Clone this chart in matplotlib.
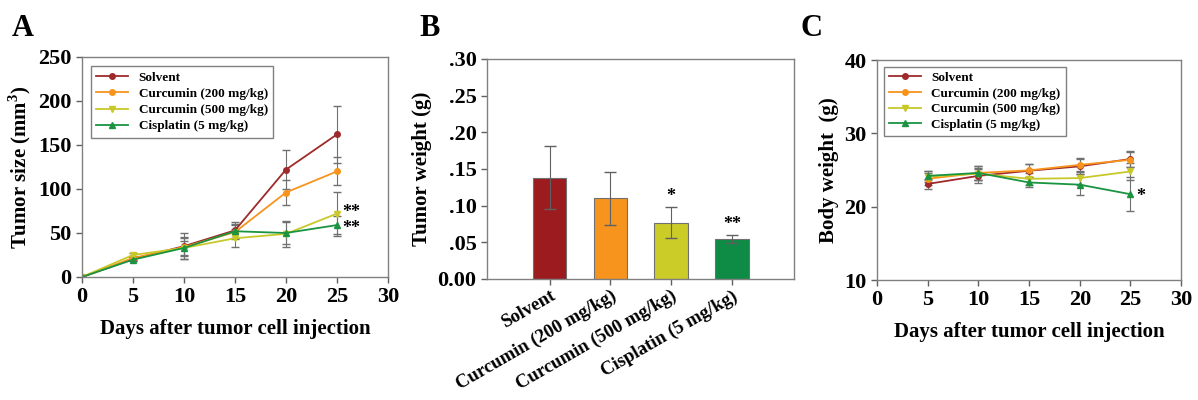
import numpy as np
import matplotlib.pyplot as plt
from matplotlib.lines import Line2D

plt.rcParams['font.family'] = ['Liberation Serif', 'DejaVu Serif']
plt.rcParams['font.weight'] = 'bold'
plt.rcParams['axes.labelweight'] = 'bold'
plt.rcParams['mathtext.fontset'] = 'custom'
plt.rcParams['mathtext.rm'] = 'Liberation Serif:bold'

groups = ['Solvent', 'Curcumin (200 mg/kg)', 'Curcumin (500 mg/kg)', 'Cisplatin (5 mg/kg)']
line_colors = ['#9e2a2b', '#f7941d', '#c8c82a', '#1a9440']
bar_colors = ['#9b1b1e', '#f7941d', '#cccc29', '#0e8c45']
markers = ['o', 'o', 'v', '^']

# A: tumor size
days_a = [0, 5, 10, 15, 20, 25]
size_solvent = [0, 20.5, 35, 53, 122, 162]
size_cur200 = [0, 21.6, 34, 51, 96, 120]
size_cur500 = [0, 25, 33, 44, 49, 72]
size_cis = [0, 19.7, 33, 52, 50, 59]
size_err_solvent = [0, 2, 15, 9, 22, 32]
size_err_cur200 = [0, 2, 10, 8, 14, 16]
size_err_cur500 = [0, 2, 12, 10, 15, 25]
size_err_cis = [0, 2, 8, 8, 13, 10]

# B: tumor weight
weights = [0.138, 0.110, 0.077, 0.054]
weight_err = [0.043, 0.036, 0.021, 0.0055]
weight_stars = ['', '', '*', '**']

# C: body weight
days_c = [5, 10, 15, 20, 25]
body_solvent = [23.1, 24.2, 24.9, 25.5, 26.5]
body_cur200 = [23.8, 24.6, 24.95, 25.7, 26.4]
body_cur500 = [24.1, 24.5, 23.8, 23.9, 24.8]
body_cis = [24.2, 24.6, 23.3, 23.0, 21.7]
body_err_solvent = [0.7, 1.0, 0.9, 1.0, 1.1]
body_err_cur200 = [0.8, 0.9, 0.9, 1.0, 1.0]
body_err_cur500 = [0.7, 0.8, 0.8, 1.0, 1.2]
body_err_cis = [0.6, 0.9, 0.6, 1.4, 2.3]

fig = plt.figure(figsize=(11.98, 4), dpi=100)
axA = fig.add_axes([0.0684, 0.3075, 0.2554, 0.55])
axB = fig.add_axes([0.4065, 0.3025, 0.2563, 0.55])
axC = fig.add_axes([0.7321, 0.30, 0.2538, 0.55])

handles = [Line2D([], [], color=c, marker=m, markersize=4, lw=1.3)
           for c, m in zip(line_colors, markers)]


def style(ax):
    for s in ax.spines.values():
        s.set_color('#808080')
        s.set_linewidth(1)
    ax.tick_params(direction='out', length=4, width=1, color='#606060', labelsize=16)
    ax.tick_params(top=False, right=False)


# Panel A
series_a = [size_solvent, size_cur200, size_cur500, size_cis]
errs_a = [size_err_solvent, size_err_cur200, size_err_cur500, size_err_cis]
for y, e, c, m in zip(series_a, errs_a, line_colors, markers):
    axA.errorbar(days_a, y, yerr=e, color=c, marker=m, markersize=4, lw=1.3,
                 ecolor='#707070', elinewidth=0.8, capsize=3)
axA.text(25.5, size_cur500[-1] + 1, '**', fontsize=13, va='center')
axA.text(25.5, size_cis[-1] - 4, '**', fontsize=13, va='center')
axA.set_xlim(0, 30)
axA.set_ylim(0, 250)
axA.set_xticks(range(0, 31, 5))
axA.set_yticks(range(0, 251, 50))
axA.set_xlabel('Days after tumor cell injection', fontsize=15, labelpad=8)
axA.set_ylabel('Tumor size (mm$^3$)', fontsize=15)
axA.legend(handles, groups, loc='upper left', fontsize=9.5, frameon=True, fancybox=False,
           edgecolor='#606060', borderaxespad=0.7, handlelength=2.4, labelspacing=0.3)
style(axA)

# Panel B
xb = np.arange(len(groups))
axB.bar(xb, weights, width=0.55, color=bar_colors, edgecolor='#707070', lw=0.8,
        yerr=weight_err, error_kw=dict(ecolor='#606060', elinewidth=0.8, capsize=4))
for x, w, e, s in zip(xb, weights, weight_err, weight_stars):
    if s:
        axB.text(x, w + e + 0.003, s, ha='center', va='bottom', fontsize=13)
axB.set_xlim(-1.03, 4.02)
axB.set_ylim(0, 0.30)
axB.set_yticks(np.arange(0, 0.31, 0.05))
axB.set_yticklabels(['0.00', '.05', '.10', '.15', '.20', '.25', '.30'])
axB.set_xticks(xb)
axB.set_xticklabels(groups, rotation=30, ha='right', rotation_mode='anchor')
axB.set_ylabel('Tumor weight (g)', fontsize=15)
style(axB)
axB.tick_params(axis='x', labelsize=13.5, pad=2)

# Panel C
series_c = [body_solvent, body_cur200, body_cur500, body_cis]
errs_c = [body_err_solvent, body_err_cur200, body_err_cur500, body_err_cis]
for y, e, c, m in zip(series_c, errs_c, line_colors, markers):
    axC.errorbar(days_c, y, yerr=e, color=c, marker=m, markersize=4, lw=1.3,
                 ecolor='#707070', elinewidth=0.8, capsize=3)
axC.text(25.6, body_cis[-1] - 0.3, '*', fontsize=13, va='center')
axC.set_xlim(0, 30)
axC.set_ylim(10, 40)
axC.set_xticks(range(0, 31, 5))
axC.set_yticks(range(10, 41, 10))
axC.set_xlabel('Days after tumor cell injection', fontsize=15, labelpad=8)
axC.set_ylabel('Body weight  (g)', fontsize=15)
axC.legend(handles, groups, loc='upper left', fontsize=9.5, frameon=True, fancybox=False,
           edgecolor='#606060', borderaxespad=0.5, handlelength=2.4, labelspacing=0.25)
style(axC)

fig.text(0.010, 0.91, 'A', fontsize=22)
fig.text(0.350, 0.91, 'B', fontsize=22)
fig.text(0.668, 0.91, 'C', fontsize=22)

fig.savefig('out.png', dpi=100)
